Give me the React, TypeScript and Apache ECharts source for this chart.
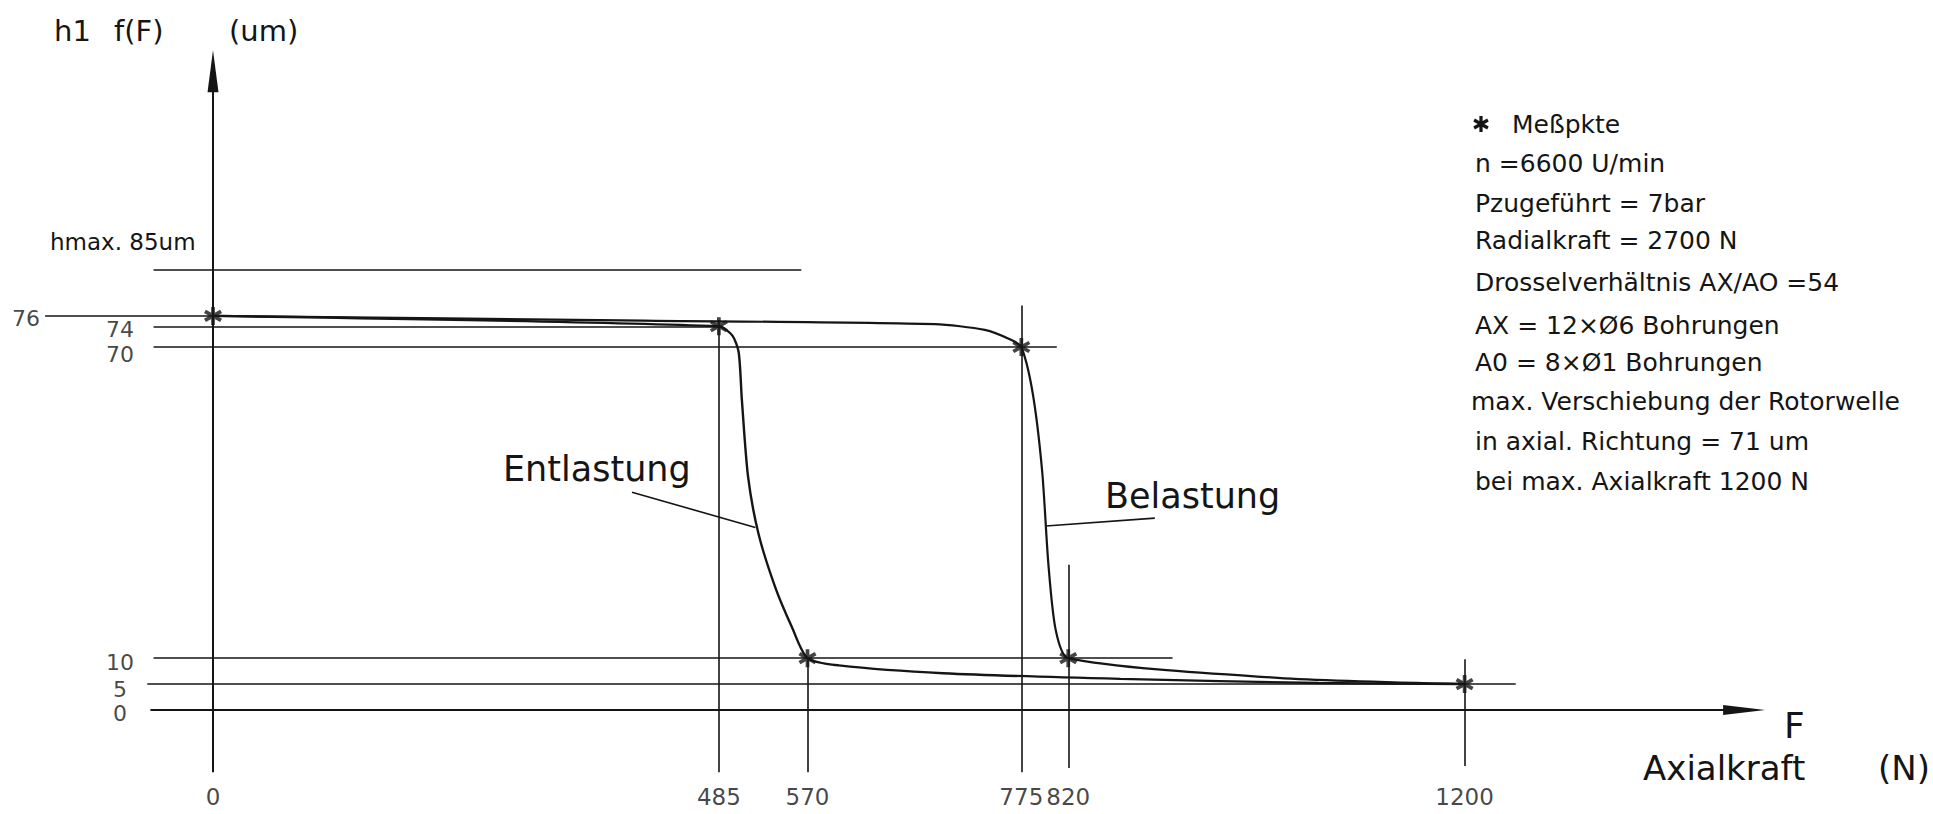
import React, { useEffect, useRef } from "react";
import * as echarts from "echarts";

// ---------- data ----------
// measured points (F in N, h1 in um)
const measuredF = [0, 485, 570, 775, 820, 1200];
const measuredH = [76, 74, 10, 70, 10, 5];

// loading curve (Belastung)
const belastungF = [0, 413, 692, 740, 765, 775, 786, 795, 801, 808, 820, 1021, 1200];
const belastungH = [76, 75.1, 74.4, 73.3, 71.4, 70, 61, 46, 28, 15.4, 10, 6.2, 5];

// unloading curve (Entlastung)
const entlastungF = [0, 485, 498, 504, 507, 513, 523, 539, 555, 570, 600, 700, 870, 1060, 1200];
const entlastungH = [76, 74, 72.2, 69, 60, 45, 34, 23.7, 16, 10, 8.6, 7.1, 6.0, 5.2, 5];

// tick labels
const xTickValues = [0, 485, 570, 775, 820, 1200];
const yTickValues = [76, 74, 70, 10, 5, 0];

// horizontal reference lines: value, extent in F
const hRefValues = [85, 76, 74, 70, 10, 5];
const hRefFrom = [-57, -161, -57, -57, -57, -63];
const hRefTo = [564, 0, 485, 809, 920, 1249];

// vertical reference lines: value, extent in h
const vRefValues = [485, 570, 775, 820, 1200];
const vRefFrom = [-12, -12, -12, -11.2, -10.8];
const vRefTo = [75.2, 10, 78, 28, 9.8];

const infoLines = [
  "n =6600 U/min",
  "Pzugeführt = 7bar",
  "Radialkraft = 2700 N",
  "Drosselverhältnis AX/AO =54",
  "AX = 12×Ø6 Bohrungen",
  "A0 = 8×Ø1 Bohrungen",
  "max. Verschiebung der Rotorwelle",
  "in axial. Richtung = 71 um",
  "bei max. Axialkraft 1200 N",
];

// ---------- layout / style ----------
const FONT = "'DejaVu Sans', 'Liberation Sans', sans-serif";
const INK = "#151515";
const infoY = [163, 203, 240, 282, 325, 362, 401, 441, 481];
const infoX = [1475, 1475, 1475, 1475, 1475, 1475, 1471, 1475, 1475];
const yLabelOffsets = [3, 3, 7, 4, 5, 4];

function asteriskPath(w: number): string {
  const parts: string[] = [];
  for (const deg of [0, 60, -60]) {
    const t = (deg * Math.PI) / 180;
    const d = [Math.sin(t), Math.cos(t)];
    const n = [Math.cos(t), -Math.sin(t)];
    const pts = [
      [d[0] + w * n[0], d[1] + w * n[1]],
      [d[0] - w * n[0], d[1] - w * n[1]],
      [-d[0] - w * n[0], -d[1] - w * n[1]],
      [-d[0] + w * n[0], -d[1] + w * n[1]],
    ];
    parts.push("M" + pts.map((p) => p[0].toFixed(3) + "," + p[1].toFixed(3)).join("L") + "Z");
  }
  return parts.join("");
}
const STAR_D = asteriskPath(0.2);
echarts.graphic.registerShape("asterisk", echarts.graphic.extendPath(STAR_D, {}));

function zip(a: number[], b: number[]) {
  return a.map((v, i) => [v, b[i]]);
}

function text(t: string, x: number, y: number, size: number, weight: number = 400, align: string = "left") {
  return {
    type: "text",
    x,
    y,
    silent: true,
    style: {
      text: t,
      fill: INK,
      fontFamily: FONT,
      fontSize: size,
      fontWeight: weight,
      align,
      verticalAlign: "middle",
    },
  };
}

function buildOption() {
  const refLineData: any[] = [];
  hRefValues.forEach((v, i) => {
    refLineData.push([{ coord: [hRefFrom[i], v] }, { coord: [hRefTo[i], v] }]);
  });
  vRefValues.forEach((v, i) => {
    refLineData.push([{ coord: [v, vRefFrom[i]] }, { coord: [v, vRefTo[i]] }]);
  });
  // leader lines
  refLineData.push([{ coord: [401.7, 42.0] }, { coord: [520, 35.2] }]);
  refLineData.push([{ coord: [798.5, 35.5] }, { coord: [903, 37.0] }]);

  const axisLines: any[] = [
    [
      { coord: [-60, 0], symbol: "none" },
      { coord: [1468, 0], symbol: "triangle", symbolSize: [10, 42] },
    ],
    [
      { coord: [0, -12], symbol: "none" },
      { coord: [0, 123.2], symbol: "triangle", symbolSize: [11, 42] },
    ],
  ];

  const labelBase = {
    show: true,
    position: "inside",
    color: INK,
    fontFamily: FONT,
    fontWeight: 400,
    textBorderWidth: 0,
    align: "center",
    verticalAlign: "middle",
  };

  return {
    animation: false,
    backgroundColor: "#ffffff",
    grid: { left: 4.4, right: 155.5, top: 10, bottom: 0.3 },
    xAxis: { type: "value", min: -200, max: 1500, show: false },
    yAxis: { type: "value", min: -20, max: 135, show: false },
    series: [
      {
        type: "line",
        data: [],
        silent: true,
        markLine: {
          silent: true,
          symbol: "none",
          animation: false,
          label: { show: false },
          lineStyle: { color: INK, width: 1.6, type: "solid" },
          data: refLineData,
        },
      },
      {
        type: "line",
        data: [],
        silent: true,
        markLine: {
          silent: true,
          symbol: "none",
          animation: false,
          label: { show: false },
          lineStyle: { color: INK, width: 2, type: "solid" },
          itemStyle: { color: INK },
          data: axisLines,
        },
      },
      {
        name: "Belastung",
        type: "line",
        data: zip(belastungF, belastungH),
        showSymbol: false,
        smooth: 0.25,
        lineStyle: { color: INK, width: 2.2 },
        silent: true,
        z: 3,
      },
      {
        name: "Entlastung",
        type: "line",
        data: zip(entlastungF, entlastungH),
        showSymbol: false,
        smooth: 0.25,
        lineStyle: { color: INK, width: 2.4 },
        silent: true,
        z: 3,
      },
      {
        name: "Meßpkte",
        type: "scatter",
        data: zip(measuredF, measuredH),
        symbol: "path://" + STAR_D,
        symbolSize: 18,
        itemStyle: { color: INK },
        silent: true,
        z: 5,
      },
      {
        type: "scatter",
        data: xTickValues.map((v) => [v, -16.8, String(v)]),
        symbolSize: 0,
        itemStyle: { color: INK },
        silent: true,
        label: { ...labelBase, fontSize: 23, formatter: (p: any) => p.value[2] },
        z: 6,
      },
      {
        type: "scatter",
        data: yTickValues.map((v, i) => ({
          value: [v === 76 ? -179.3 : -89.2, v, String(v)],
          label: { offset: [0, yLabelOffsets[i]] },
        })),
        symbolSize: 0,
        itemStyle: { color: INK },
        silent: true,
        label: { ...labelBase, fontSize: 22, formatter: (p: any) => p.value[2] },
        z: 6,
      },
    ],
    graphic: [
      text("h1", 54, 31, 29),
      text("f(F)", 114, 31, 29),
      text("(um)", 229, 31, 29),
      text("hmax. 85um", 50, 242, 23),
      text("Entlastung", 503, 469, 35),
      text("Belastung", 1105, 496, 35),
      text("F", 1784, 725, 36),
      text("Axialkraft", 1643, 768, 34),
      text("(N)", 1930, 768, 34, 400, "right"),
      {
        type: "asterisk",
        x: 1481,
        y: 124,
        scaleX: 8,
        scaleY: 8,
        silent: true,
        style: { fill: INK },
      },
      text("Meßpkte", 1512, 124, 25),
      ...infoLines.map((t, i) => text(t, infoX[i], infoY[i], 25)),
    ],
  };
}

export default function App() {
  const ref = useRef<HTMLDivElement>(null);
  useEffect(() => {
    if (!ref.current) return;
    const chart = echarts.init(ref.current, null, { renderer: "svg" });
    chart.setOption(buildOption() as any);
    return () => chart.dispose();
  }, []);
  return (
    <div
      ref={ref}
      style={{ position: "fixed", left: 0, top: 0, width: 1933, height: 814, background: "#fff" }}
    />
  );
}
